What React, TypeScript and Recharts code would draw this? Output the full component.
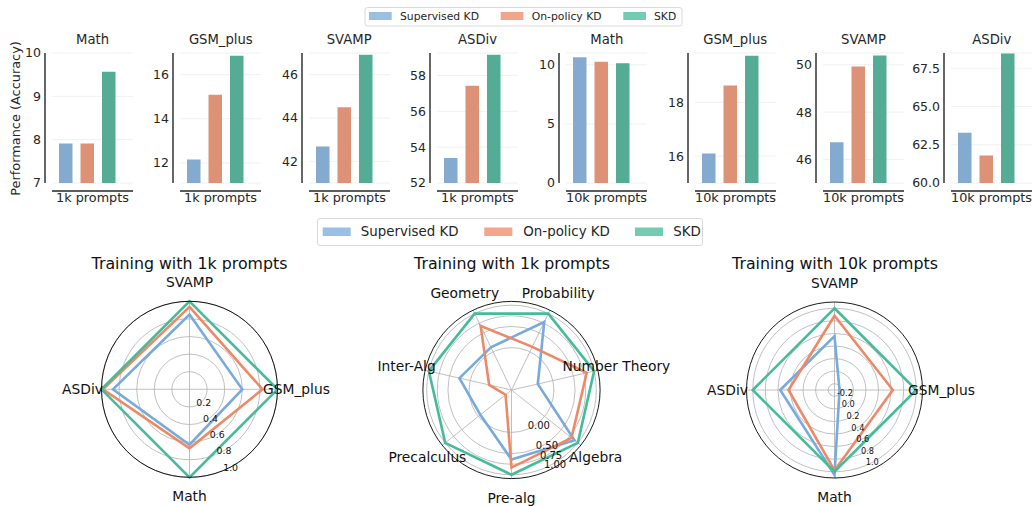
import React from 'react';
import {
  BarChart, Bar, XAxis, YAxis, CartesianGrid,
  RadarChart, Radar, PolarGrid, PolarAngleAxis, PolarRadiusAxis,
} from 'recharts';

const FONT = "'DejaVu Sans', 'Liberation Sans', sans-serif";
const TEXT = '#262626';

// ---------- series ----------
const seriesNames = ['Supervised KD', 'On-policy KD', 'SKD'];
const lineColors = ['#77AADD', '#EE8866', '#44BB99'];
const barColors = ['#84AAD0', '#DD9177', '#53AC93'];
const legendColors = ['#99BFE5', '#F2A68C', '#73CCB2'];

// ---------- bar panels ----------
const benchmarks = ['Math', 'GSM_plus', 'SVAMP', 'ASDiv'];
const promptGroups = ['1k prompts', '10k prompts'];

const supervised1k = [7.91, 12.15, 42.68, 53.39];
const onPolicy1k = [7.91, 15.09, 44.5, 57.43];
const skd1k = [9.57, 16.86, 46.92, 59.15];

const supervised10k = [10.64, 16.1, 46.72, 63.29];
const onPolicy10k = [10.25, 18.62, 49.93, 61.79];
const skd10k = [10.13, 19.73, 50.39, 68.46];

const yDomains1k = [[7, 10], [11.09, 16.98], [41, 47], [52, 59.25]];
const yTicks1k = [[7, 8, 9, 10], [12, 14, 16], [42, 44, 46], [52, 54, 56, 58]];
const yDomains10k = [[0, 11], [15, 19.83], [45, 50.5], [60, 68.5]];
const yTicks10k = [[0, 5, 10], [16, 18], [46, 48, 50], [60, 62.5, 65, 67.5]];
const yDecimals10k = [0, 0, 0, 1];

// ---------- radar panels ----------
const radarTitles = ['Training with 1k prompts', 'Training with 1k prompts', 'Training with 10k prompts'];

const radar1Axes = ['SVAMP', 'GSM_plus', 'Math', 'ASDiv'];
const radar1Supervised = [0.85, 0.6, 0.63, 0.87];
const radar1OnPolicy = [0.937, 0.83, 0.67, 0.983];
const radar1Skd = [1, 1, 1, 1];
const radar1Domain = [0, 1];
const radar1Ticks = [0.2, 0.4, 0.6, 0.8, 1.0];

// clockwise from the upper right
const radar2Axes = ['Probability', 'Number Theory', 'Algebra', 'Pre-alg', 'Precalculus', 'Inter-Alg', 'Geometry'];
const radar2Supervised = [0.78, -0.364, 0.9, 0.64, -0.06, 0.26, 0.12];
const radar2OnPolicy = [0.13, 0.82, 0.81, 0.83, -0.82, -0.46, 0.68];
const radar2Skd = [1, 1, 1, 1, 1, 1, 1];
const radar2Domain = [-0.91, 1.09];
const radar2Ticks = [0, 0.5, 0.75, 1.0];

const radar3Axes = ['SVAMP', 'GSM_plus', 'Math', 'ASDiv'];
const radar3Supervised = [0.559, -0.22, 1.052, 0.564];
const radar3OnPolicy = [0.882, 0.628, 0.98, 0.432];
const radar3Skd = [1, 1, 1, 1];
const radar3Domain = [-0.3, 1.1];
const radar3Ticks = [-0.2, 0, 0.2, 0.4, 0.6, 0.8, 1.0];

// ---------- layout ----------
const panelLefts = [52, 180.3, 308.7, 437, 566.3, 694.7, 823, 951.3];
const PLOT_W = 81;

function BarPanel(props: any) {
  const { group, sv, op, skd, domain, ticks, decimals, left } = props;
  const data = [{ group, sv, op, skd }];
  return (
    <div style={{ position: 'absolute', left: left - 50, top: 0 }}>
      <BarChart
        width={50 + PLOT_W}
        height={215}
        data={data}
        margin={{ top: 53, right: 0, bottom: 0, left: 0 }}
        barSize={13.5}
        barGap={8}
      >
        <CartesianGrid vertical={false} stroke="#ececec" strokeWidth={0.8} />
        <XAxis
          dataKey="group"
          height={32}
          tickLine={false}
          tickSize={0}
          tickMargin={10}
          padding={{ left: 0, right: 10 }}
          axisLine={{ stroke: TEXT, strokeWidth: 1.4, transform: 'translate(0,8)' }}
          tick={{ fill: TEXT, fontSize: 12.8, dx: 5 }}
          interval={0}
        />
        <YAxis
          type="number"
          width={50}
          domain={domain}
          ticks={ticks}
          allowDataOverflow
          tickLine={false}
          tickSize={0}
          tickMargin={11}
          axisLine={{ stroke: TEXT, strokeWidth: 1.4, transform: 'translate(-7,0)' }}
          tick={{ fill: TEXT, fontSize: 12.5 }}
          tickFormatter={(v: number) => v.toFixed(decimals)}
          interval={0}
        />
        <Bar dataKey="sv" name={seriesNames[0]} fill={barColors[0]} isAnimationActive={false} />
        <Bar dataKey="op" name={seriesNames[1]} fill={barColors[1]} isAnimationActive={false} />
        <Bar dataKey="skd" name={seriesNames[2]} fill={barColors[2]} isAnimationActive={false} />
      </BarChart>
    </div>
  );
}

const AngleTick = (props: any) => (
  <text
    x={props.x}
    y={props.y}
    textAnchor="middle"
    dominantBaseline="central"
    fontSize={13.8}
    fill="#111"
  >
    {props.payload.value}
  </text>
);

function makeRadiusTick(fontSize: number, decimals: number) {
  return (props: any) => (
    <text x={props.x} y={props.y} textAnchor="start" fontSize={fontSize} fill="#111">
      {Number(props.payload.value).toFixed(decimals)}
    </text>
  );
}

function RadarPanel(props: any) {
  const { axes, sv, op, skd, domain, ticks, decimals, fontSize, left, cx, cy, r, startAngle, endAngle } = props;
  const data = axes.map((a: string, i: number) => ({ axis: a, sv: sv[i], op: op[i], skd: skd[i] }));
  return (
    <div style={{ position: 'absolute', left, top: 250 }}>
      <RadarChart
        width={340}
        height={256}
        data={data}
        cx={cx}
        cy={cy}
        outerRadius={r}
        startAngle={startAngle}
        endAngle={endAngle}
        margin={{ top: 0, right: 0, bottom: 0, left: 0 }}
      >
        <PolarGrid gridType="circle" stroke="#b0b0b0" strokeWidth={0.8} />
        <PolarAngleAxis
          dataKey="axis"
          tick={AngleTick}
          tickLine={false}
          tickSize={19}
          axisLine={{ stroke: '#000', strokeWidth: 0.9 }}
          axisLineType="circle"
        />
        <PolarRadiusAxis
          type="number"
          angle={-67.5}
          domain={domain}
          ticks={ticks}
          allowDataOverflow
          axisLine={false}
          tickLine={false}
          tick={makeRadiusTick(fontSize, decimals)}
        />
        <Radar dataKey="sv" name={seriesNames[0]} stroke={lineColors[0]} strokeWidth={2.6} fill="none" fillOpacity={0} dot={false} isAnimationActive={false} />
        <Radar dataKey="op" name={seriesNames[1]} stroke={lineColors[1]} strokeWidth={2.6} fill="none" fillOpacity={0} dot={false} isAnimationActive={false} />
        <Radar dataKey="skd" name={seriesNames[2]} stroke={lineColors[2]} strokeWidth={2.6} fill="none" fillOpacity={0} dot={false} isAnimationActive={false} />
      </RadarChart>
    </div>
  );
}

function Legend(props: any) {
  const { x, y, w, h, patchXs, textXs, patchY, patchW, patchH, textY, fontSize } = props;
  return (
    <g>
      <rect x={x} y={y} width={w} height={h} rx={2.5} fill="#fff" stroke="#d6d6d6" strokeWidth={0.9} />
      {seriesNames.map((n, i) => (
        <g key={n}>
          <rect x={patchXs[i]} y={patchY} width={patchW} height={patchH} fill={legendColors[i]} />
          <text x={textXs[i]} y={textY} fontSize={fontSize} fill={TEXT}>{n}</text>
        </g>
      ))}
    </g>
  );
}

export default function App() {
  const panels1k = benchmarks.map((b, i) => ({
    title: b, group: promptGroups[0], sv: supervised1k[i], op: onPolicy1k[i], skd: skd1k[i],
    domain: yDomains1k[i], ticks: yTicks1k[i], decimals: 0,
  }));
  const panels10k = benchmarks.map((b, i) => ({
    title: b, group: promptGroups[1], sv: supervised10k[i], op: onPolicy10k[i], skd: skd10k[i],
    domain: yDomains10k[i], ticks: yTicks10k[i], decimals: yDecimals10k[i],
  }));
  const panels = [...panels1k, ...panels10k];
  const step = 360 / radar2Axes.length;
  const start2 = -90 + 3 * step; // Pre-alg (4th axis) points straight down

  return (
    <div
      style={{
        position: 'absolute', left: 0, top: 0, width: 1034, height: 506,
        overflow: 'hidden', background: '#fff', fontFamily: FONT,
      }}
    >
      {panels.map((p, i) => (
        <BarPanel key={i} {...p} left={panelLefts[i]} />
      ))}

      <RadarPanel
        axes={radar1Axes} sv={radar1Supervised} op={radar1OnPolicy} skd={radar1Skd}
        domain={radar1Domain} ticks={radar1Ticks} decimals={1} fontSize={9.4}
        left={20} cx={169.5} cy={139.3} r={88} startAngle={90} endAngle={-270}
      />
      <RadarPanel
        axes={radar2Axes} sv={radar2Supervised} op={radar2OnPolicy} skd={radar2Skd}
        domain={radar2Domain} ticks={radar2Ticks} decimals={2} fontSize={10}
        left={342} cx={169.5} cy={140} r={88.6} startAngle={start2} endAngle={start2 - 360}
      />
      <RadarPanel
        axes={radar3Axes} sv={radar3Supervised} op={radar3OnPolicy} skd={radar3Skd}
        domain={radar3Domain} ticks={radar3Ticks} decimals={1} fontSize={8.2}
        left={664} cx={170.5} cy={140} r={88} startAngle={90} endAngle={-270}
      />

      <svg width={1034} height={506} style={{ position: 'absolute', left: 0, top: 0, pointerEvents: 'none' }} fontFamily={FONT}>
        {panels.map((p, i) => (
          <text key={i} x={panelLefts[i] + PLOT_W / 2} y={44.3} textAnchor="middle" fontSize={13.2} fill={TEXT}>
            {p.title}
          </text>
        ))}
        <text transform="translate(19.5,118.5) rotate(-90)" textAnchor="middle" fontSize={12.9} fill={TEXT}>
          Performance (Accuracy)
        </text>
        <text x={189.5} y={269} textAnchor="middle" fontSize={15.8} fill="#111">{radarTitles[0]}</text>
        <text x={512} y={269} textAnchor="middle" fontSize={15.8} fill="#111">{radarTitles[1]}</text>
        <text x={835} y={269} textAnchor="middle" fontSize={15.8} fill="#111">{radarTitles[2]}</text>

        <Legend
          x={365} y={7.5} w={317} h={18.5}
          patchXs={[369, 500.7, 623.3]} textXs={[400, 531.7, 654]}
          patchY={12} patchW={22.7} patchH={8} textY={19.6} fontSize={10.8}
        />
        <Legend
          x={317.5} y={218.5} w={385} h={27}
          patchXs={[322.7, 484.3, 635]} textXs={[360.7, 523.3, 673.3]}
          patchY={227.5} patchW={28} patchH={8.5} textY={236} fontSize={13.4}
        />
      </svg>
    </div>
  );
}
